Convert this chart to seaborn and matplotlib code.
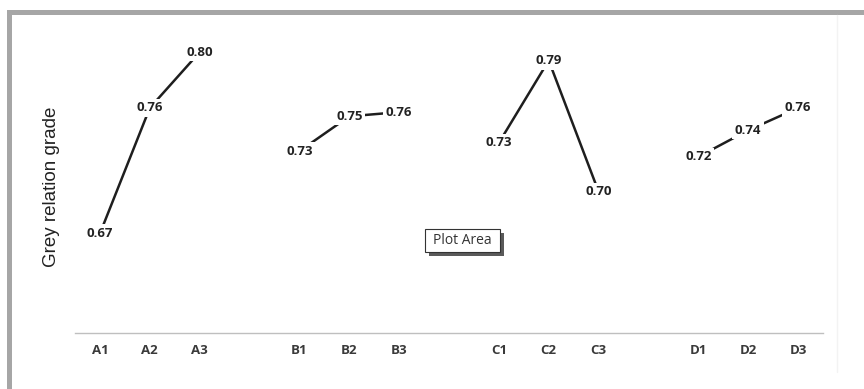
import matplotlib
matplotlib.use("Agg")
import matplotlib.pyplot as plt
from matplotlib.patches import Rectangle
from matplotlib.lines import Line2D
import seaborn as sns
import pandas as pd
import numpy as np

# ---- data ----
categories = ["A1", "A2", "A3", "", "B1", "B2", "B3", "", "C1", "C2", "C3", "", "D1", "D2", "D3"]
values = [0.670, 0.760, 0.800, np.nan, 0.729, 0.754, 0.757, np.nan,
          0.735, 0.794, 0.700, np.nan, 0.725, 0.744, 0.760]
y_label = "Grey relation grade"
tooltip = "Plot Area"

W, H = 864, 389
sns.set_theme(style="white")
plt.rcParams["font.family"] = ["Open Sans", "DejaVu Sans"]

fig = plt.figure(figsize=(W / 100, H / 100), dpi=100)
fig.patch.set_facecolor("white")

def fx(px):
    return px / W

def fy(py):
    return 1 - py / H

ax = fig.add_axes([fx(75), fy(333), fx(823) - fx(75), fy(40) - fy(333)])
ax.set_facecolor("none")

df = pd.DataFrame({"pos": np.arange(len(categories)), "cat": categories, "val": values}).dropna()
df["grp"] = df["cat"].str[0]

sns.lineplot(data=df, x="pos", y="val", units="grp", estimator=None,
             color="#1e1e1e", lw=1.8, ax=ax, legend=False)

for p, v in zip(df["pos"], df["val"]):
    ax.text(p, v, f"{v:.2f}", ha="center", va="center", fontsize=9.5, fontweight="bold",
            color="#222222", zorder=5, clip_on=False,
            bbox=dict(boxstyle="square,pad=0.2", fc="white", ec="none"))

ax.set_xlim(-0.5, len(categories) - 0.5)
ax.set_ylim(0.5987, 0.8087)
ax.set_xticks(np.arange(len(categories)))
ax.set_xticklabels(categories)
ax.set_yticks([])
ax.set_xlabel("")
ax.set_ylabel("")
for s in ["top", "left", "right"]:
    ax.spines[s].set_visible(False)
ax.spines["bottom"].set_color("#bfbfbf")
ax.spines["bottom"].set_linewidth(1.0)
ax.tick_params(axis="x", length=0, pad=8, labelsize=9.5, labelcolor="#3a3a3a")
for t in ax.get_xticklabels():
    t.set_fontweight("bold")

fig.text(fx(52), fy(187), y_label, rotation=90, ha="center", va="center",
         fontsize=13.5, color="#222222", family=["Liberation Sans", "DejaVu Sans"])

# frame bands
fig.patches.append(Rectangle((fx(7), 0), fx(12) - fx(7), fy(10), transform=fig.transFigure,
                             fc="#a6a6a6", ec="none", zorder=0))
fig.patches.append(Rectangle((fx(7), fy(15)), 1 - fx(7), fy(10) - fy(15), transform=fig.transFigure,
                             fc="#a6a6a6", ec="none", zorder=0))
fig.lines.append(Line2D([fx(837), fx(837)], [fy(15), fy(372)], transform=fig.transFigure,
                        color="#f3f3f3", lw=1))

# tooltip
fig.patches.append(Rectangle((fx(429), fy(256)), fx(504) - fx(429), fy(233) - fy(256),
                             transform=fig.transFigure, fc="#5a5a5a", ec="none", zorder=6))
fig.patches.append(Rectangle((fx(425), fy(252)), fx(500) - fx(425), fy(229) - fy(252),
                             transform=fig.transFigure, fc="white", ec="#333333", lw=0.8, zorder=7))
fig.text(fx(462.5), fy(240.5), tooltip, ha="center", va="center", fontsize=10,
         color="#333333", zorder=8)

fig.savefig("out.png", dpi=100, facecolor="white")
